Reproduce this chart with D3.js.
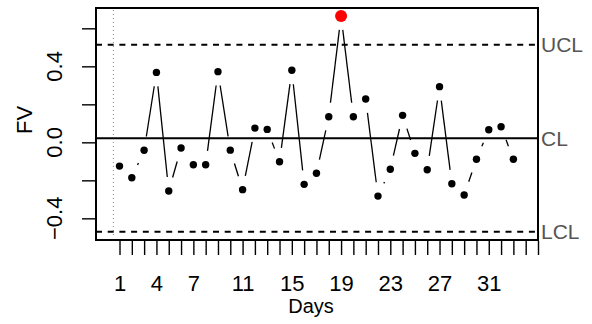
<!DOCTYPE html>
<html>
<head>
<meta charset="utf-8">
<script src="https://cdn.jsdelivr.net/npm/d3@7"></script>
<style>
	html, body { margin: 0; padding: 0; background: #fff; }
	svg { display: block; font-family: "Liberation Sans", Arial, sans-serif; }
</style>
</head>
<body>
<div id="chart"></div>
<script>
// daily FV values
const fv = [
	-0.125, -0.186, -0.042, 0.368, -0.256, -0.030, -0.118, -0.118, 0.372, -0.041,
	-0.249, 0.075, 0.068, -0.102, 0.379, -0.221, -0.163, 0.135, 0.665, 0.135,
	0.228, -0.283, -0.142, 0.142, -0.058, -0.144, 0.293, -0.218, -0.277, -0.089,
	0.066, 0.082, -0.089
];
const days = fv.map((_, i) => i + 1);

const limits = [
	{ name: 'UCL', value: 0.513, dashed: true },
	{ name: 'CL', value: 0.021, dashed: false },
	{ name: 'LCL', value: -0.471, dashed: true }
];

const xTicks = d3.range(1, 36);
const xTickLabels = [1, 4, 7, 11, 15, 19, 23, 27, 31];
const yTicks = [-0.4, -0.2, 0.0, 0.2, 0.4, 0.6];
const yTickLabels = [-0.4, 0.0, 0.4];

const width = 592, height = 324;
const box = { left: 96, right: 538, top: 8, bottom: 240 };

const svg = d3.select('#chart').append('svg')
	.attr('width', width)
	.attr('height', height);

const x = d3.scaleLinear()
	.domain([-0.91, 35])
	.range([box.left, box.right]);

const y = d3.scaleLinear()
	.domain([-0.514, 0.707])
	.range([box.bottom, box.top]);

const fmt = d => d3.format('.1f')(d).replace('-', '\u2212');

// x axis: a tick at every day, labels only where R kept them
svg.append('g')
	.attr('transform', `translate(0, ${box.bottom + 1})`)
	.call(d3.axisBottom(x)
		.tickValues(xTicks)
		.tickSize(14)
		.tickSizeOuter(0)
		.tickPadding(20)
		.tickFormat(d => xTickLabels.includes(d) ? d : ''))
	.call(g => g.select('.domain').remove())
	.call(g => g.selectAll('line').attr('stroke', '#000').attr('stroke-width', 1.4))
	.call(g => g.selectAll('text')
		.attr('fill', '#000')
		.attr('font-size', 22)
		.attr('dy', '0.71em'));

// y axis, labels rotated like R's las=0
const yAxisG = svg.append('g')
	.attr('transform', `translate(${box.left}, 0)`)
	.call(d3.axisLeft(y)
		.tickValues(yTicks)
		.tickSize(14)
		.tickSizeOuter(0)
		.tickFormat(''))
	.call(g => g.selectAll('line').attr('stroke', '#000').attr('stroke-width', 1.4))
	.call(g => g.select('.domain')
		.attr('stroke', '#000')
		.attr('stroke-width', 1.4)
		.attr('d', `M0,${y(-0.4)}V${y(0.6)}`));

svg.append('g')
	.selectAll('text')
	.data(yTickLabels)
	.join('text')
	.attr('transform', d => `translate(62, ${y(d)}) rotate(-90)`)
	.attr('text-anchor', 'middle')
	.attr('font-size', 22)
	.attr('fill', '#000')
	.text(fmt);

// axis titles
svg.append('text')
	.attr('x', 311)
	.attr('y', 313)
	.attr('text-anchor', 'middle')
	.attr('font-size', 20)
	.attr('fill', '#000')
	.text('Days');

svg.append('text')
	.attr('transform', `translate(32, 120) rotate(-90)`)
	.attr('text-anchor', 'middle')
	.attr('font-size', 22)
	.attr('fill', '#000')
	.text('FV');

// dotted start marker
svg.append('line')
	.attr('x1', x(0.5)).attr('x2', x(0.5))
	.attr('y1', box.top + 2).attr('y2', box.bottom - 2)
	.attr('stroke', '#888')
	.attr('stroke-width', 1)
	.attr('stroke-dasharray', '1,3');

// control limits
svg.append('g')
	.selectAll('line')
	.data(limits)
	.join('line')
	.attr('x1', box.left).attr('x2', box.right)
	.attr('y1', d => y(d.value)).attr('y2', d => y(d.value))
	.attr('stroke', '#000')
	.attr('stroke-width', 2)
	.attr('stroke-dasharray', d => d.dashed ? '6,5.7' : null);

svg.append('g')
	.selectAll('text')
	.data(limits)
	.join('text')
	.attr('x', box.right + 3)
	.attr('y', d => y(d.value))
	.attr('dy', '0.36em')
	.attr('font-size', 21)
	.attr('fill', '#555')
	.text(d => d.name);

// type = "b": segments with a gap around every point
const gap = 14;
const segs = [];
for (let i = 0; i < fv.length - 1; i++) {
	const x0 = x(days[i]), y0 = y(fv[i]);
	const x1 = x(days[i + 1]), y1 = y(fv[i + 1]);
	const len = Math.hypot(x1 - x0, y1 - y0);
	if (len <= gap * 2) continue;
	const ux = (x1 - x0) / len, uy = (y1 - y0) / len;
	segs.push([x0 + ux * gap, y0 + uy * gap, x1 - ux * gap, y1 - uy * gap]);
}

svg.append('g')
	.selectAll('line')
	.data(segs)
	.join('line')
	.attr('x1', d => d[0]).attr('y1', d => d[1])
	.attr('x2', d => d[2]).attr('y2', d => d[3])
	.attr('stroke', '#000')
	.attr('stroke-width', 1.3);

const ucl = limits[0].value, lcl = limits[2].value;
svg.append('g')
	.selectAll('circle')
	.data(fv)
	.join('circle')
	.attr('cx', (d, i) => x(days[i]))
	.attr('cy', d => y(d))
	.attr('r', d => (d > ucl || d < lcl) ? 6 : 3.7)
	.attr('fill', d => (d > ucl || d < lcl) ? '#f00' : '#000');

// plot frame
svg.append('rect')
	.attr('x', box.left).attr('y', box.top)
	.attr('width', box.right - box.left)
	.attr('height', box.bottom - box.top)
	.attr('fill', 'none')
	.attr('stroke', '#000')
	.attr('stroke-width', 2);
</script>
</body>
</html>
